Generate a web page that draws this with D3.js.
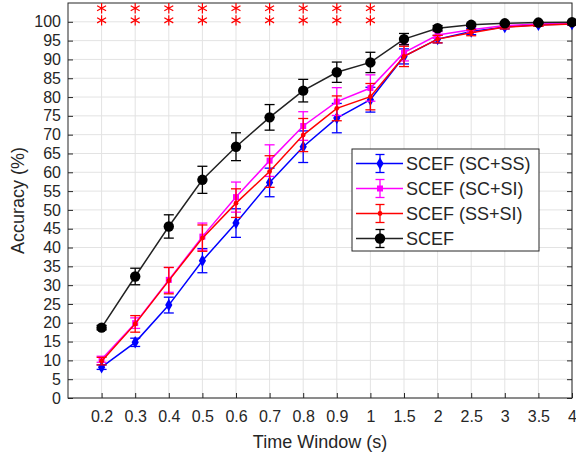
<!DOCTYPE html>
<html>
<head>
<meta charset="utf-8">
<script src="https://cdn.jsdelivr.net/npm/d3@7"></script>
<style>
  body { margin: 0; background: #fff; }
  text { font-family: "Liberation Sans", Arial, sans-serif; fill: #262626; }
</style>
</head>
<body>
<script>
const w = 576;
const h = 457;

// time windows (s), drawn at equal spacing
const windows = ["0.2", "0.3", "0.4", "0.5", "0.6", "0.7", "0.8", "0.9", "1", "1.5", "2", "2.5", "3", "3.5", "4"];

const scSs = [8.2, 14.8, 24.7, 36.5, 46.5, 57.3, 66.8, 74.4, 79.3, 90.8, 95.4, 97.4, 98.6, 99.2, 99.4];
const scSsErr = [0.6, 1.1, 2.1, 3.2, 3.8, 3.8, 4.2, 3.9, 3.3, 2.0, 1.0, 0.8, 0.5, 0.4, 0.3];

const scSi = [10.3, 19.9, 31.4, 42.9, 53.4, 63.1, 72.3, 78.8, 82.4, 91.8, 96.5, 97.9, 99.0, 99.4, 99.6];
const scSiErr = [0.8, 1.4, 3.3, 3.6, 4.0, 4.2, 3.8, 3.7, 3.5, 2.2, 0.9, 0.7, 0.4, 0.3, 0.2];

const ssSi = [9.8, 19.7, 31.2, 42.5, 51.8, 60.2, 69.9, 77.0, 80.1, 90.8, 95.4, 97.1, 98.6, 99.1, 99.4];
const ssSiErr = [1.0, 2.2, 3.5, 3.5, 3.8, 4.2, 4.4, 3.3, 3.5, 2.7, 1.0, 0.8, 0.5, 0.3, 0.2];

const scef = [18.7, 32.3, 45.6, 58.0, 66.8, 74.6, 81.7, 86.6, 89.2, 95.4, 98.3, 99.2, 99.6, 99.8, 99.9];
const scefErr = [0.6, 2.2, 3.1, 3.6, 3.7, 3.4, 3.0, 2.7, 2.7, 1.5, 0.7, 0.4, 0.3, 0.2, 0.2];

// significance markers
const starWindows = ["0.2", "0.3", "0.4", "0.5", "0.6", "0.7", "0.8", "0.9", "1"];
const starLevels = [103.6, 100.4];

const yTicks = d3.range(0, 101, 5);

const series = [
  { name: "SCEF (SC+SS)", values: scSs, err: scSsErr, color: "#0000ff", marker: "diamond" },
  { name: "SCEF (SC+SI)", values: scSi, err: scSiErr, color: "#ff00ff", marker: "square" },
  { name: "SCEF (SS+SI)", values: ssSi, err: ssSiErr, color: "#ff0000", marker: "dot" },
  { name: "SCEF", values: scef, err: scefErr, color: "#000000", marker: "circle" }
];

const pL = 68, pR = 572, pT = 3, pB = 398;

const svg = d3.select("body")
              .append("svg")
              .attr("width", w)
              .attr("height", h);

const xScale = d3.scaleLinear()
    .domain([0, windows.length])
    .range([pL, pR]);

const yScale = d3.scaleLinear()
    .domain([0, 105])
    .range([pB, pT]);

const xIdx = lbl => windows.indexOf(lbl) + 1;

// grid
const grid = svg.append("g").attr("stroke", "#e3e3e3").attr("stroke-width", 1);
grid.selectAll(".gy").data(yTicks).enter().append("line")
    .attr("x1", pL).attr("x2", pR)
    .attr("y1", d => yScale(d)).attr("y2", d => yScale(d));
grid.selectAll(".gx").data(windows).enter().append("line")
    .attr("x1", (d, i) => xScale(i + 1)).attr("x2", (d, i) => xScale(i + 1))
    .attr("y1", pT).attr("y2", pB);

// axes
const yAxis = d3.axisLeft(yScale)
    .tickValues(yTicks)
    .tickSize(-5)
    .tickPadding(7);
const xAxis = d3.axisBottom(xScale)
    .tickValues(d3.range(1, windows.length + 1))
    .tickFormat(i => windows[i - 1])
    .tickSize(-5)
    .tickPadding(13);

const gy = svg.append("g").attr("transform", "translate(" + pL + ",0)").call(yAxis);
const gx = svg.append("g").attr("transform", "translate(0," + pB + ")").call(xAxis);
const gr = svg.append("g").attr("transform", "translate(" + pR + ",0)")
    .call(d3.axisRight(yScale).tickValues(yTicks).tickSize(-5).tickFormat(""));

[gy, gx, gr].forEach(g => {
  g.selectAll("text").style("font-size", "16px").attr("fill", "#262626");
  g.selectAll("line").attr("stroke", "#262626");
  g.select(".domain").remove();
});

svg.append("rect")
    .attr("x", pL).attr("y", pT)
    .attr("width", pR - pL).attr("height", pB - pT)
    .attr("fill", "none").attr("stroke", "#262626").attr("stroke-width", 1);

// labels
svg.append("text")
    .attr("x", (pL + pR) / 2).attr("y", 448)
    .attr("text-anchor", "middle")
    .style("font-size", "18px")
    .text("Time Window (s)");
svg.append("text")
    .attr("transform", "translate(24," + ((pT + pB) / 2) + ") rotate(-90)")
    .attr("text-anchor", "middle")
    .style("font-size", "18px")
    .text("Accuracy (%)");

// significance asterisks
const star = d3.symbol().type(d3.symbolAsterisk).size(75);
starLevels.forEach(lv => {
  svg.append("g").selectAll("path").data(starWindows).enter().append("path")
      .attr("d", star)
      .attr("transform", d => "translate(" + xScale(xIdx(d)) + "," + yScale(lv) + ")")
      .attr("fill", "none").attr("stroke", "#ff0000").attr("stroke-width", 1.2);
});

function drawMarker(g, s, x, y) {
  if (s.marker === "circle") {
    g.append("circle").attr("cx", x).attr("cy", y).attr("r", 5.2).attr("fill", s.color);
  } else if (s.marker === "diamond") {
    g.append("path").attr("d", d3.symbol().type(d3.symbolDiamond).size(45))
      .attr("transform", "translate(" + x + "," + y + ")").attr("fill", s.color);
  } else if (s.marker === "square") {
    g.append("rect").attr("x", x - 3).attr("y", y - 3).attr("width", 6).attr("height", 6).attr("fill", s.color);
  } else {
    g.append("circle").attr("cx", x).attr("cy", y).attr("r", 2.4).attr("fill", s.color);
  }
}

const cap = 5;
series.forEach(s => {
  const g = svg.append("g");
  const line = d3.line()
      .x((d, i) => xScale(i + 1))
      .y(d => yScale(d));
  g.append("path")
      .datum(s.values)
      .attr("fill", "none")
      .attr("stroke", s.color === "#000000" ? "#222" : s.color)
      .attr("stroke-width", 1.5)
      .attr("d", line);
  s.values.forEach((v, i) => {
    const x = xScale(i + 1);
    const y0 = yScale(v - s.err[i]), y1 = yScale(v + s.err[i]);
    const eb = g.append("g").attr("stroke", s.color).attr("stroke-width", 1.3);
    eb.append("line").attr("x1", x).attr("x2", x).attr("y1", y0).attr("y2", y1);
    eb.append("line").attr("x1", x - cap).attr("x2", x + cap).attr("y1", y0).attr("y2", y0);
    eb.append("line").attr("x1", x - cap).attr("x2", x + cap).attr("y1", y1).attr("y2", y1);
    drawMarker(g, s, x, yScale(v));
  });
});

// legend
const lg = svg.append("g");
lg.append("rect")
    .attr("x", 352).attr("y", 149).attr("width", 187).attr("height", 102)
    .attr("fill", "#fff").attr("stroke", "#262626").attr("stroke-width", 1);
series.forEach((s, i) => {
  const y = 163.5 + i * 25;
  const g = lg.append("g");
  g.append("line").attr("x1", 356).attr("x2", 403).attr("y1", y).attr("y2", y)
      .attr("stroke", s.color === "#000000" ? "#222" : s.color).attr("stroke-width", 1.5);
  const eb = g.append("g").attr("stroke", s.color).attr("stroke-width", 1.3);
  eb.append("line").attr("x1", 380).attr("x2", 380).attr("y1", y - 9).attr("y2", y + 9);
  eb.append("line").attr("x1", 375.5).attr("x2", 384.5).attr("y1", y - 9).attr("y2", y - 9);
  eb.append("line").attr("x1", 375.5).attr("x2", 384.5).attr("y1", y + 9).attr("y2", y + 9);
  drawMarker(g, s, 380, y);
  g.append("text").attr("x", 406).attr("y", y + 6.5)
      .style("font-size", "18px")
      .text(s.name);
});
</script>
</body>
</html>
